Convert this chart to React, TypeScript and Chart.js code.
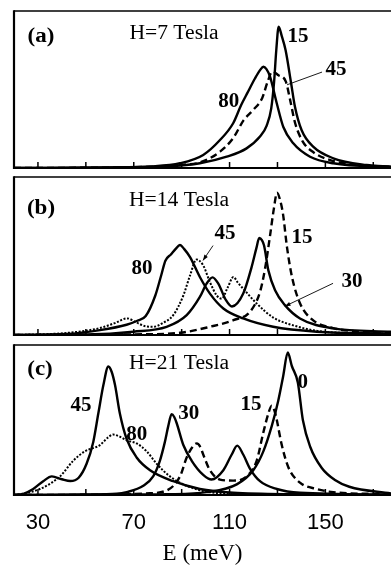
import React, { useEffect, useRef } from "react";
import { Chart, registerables } from "chart.js";

Chart.register(...registerables);

type Pt = [number, number];

// ---------- axis ----------
const E_MIN = 20;
const E_MAX = 177.4;
const E_TICKS = [30, 50, 70, 90, 110, 130, 150, 170];
const E_LABELED = [30, 70, 110, 150];
const X_TITLE = "E (meV)";

// ---------- panel (a) H = 7 Tesla ----------
const A_15: Pt[] = [
  [20, 0], [60, 0.3], [84, 1], [97.6, 3], [108.8, 7.2], [117.1, 12.5], [122.7, 20],
  [125.5, 27], [127.4, 38], [128.6, 55], [129.5, 75], [130.5, 90], [131.8, 84],
  [133.4, 75], [135.7, 54], [137.3, 39], [140.1, 24], [144.9, 13.6], [153.3, 6.2],
  [167.2, 1.9], [177.4, 0.8],
];
const A_45: Pt[] = [
  [20, 0], [70, 0.5], [90, 2], [97.6, 3.5], [106, 10.4], [111.5, 19], [115.9, 30.5],
  [119.9, 37], [123.6, 44.5], [125.9, 55], [127.8, 61.4], [130.5, 59], [133.5, 55],
  [135.2, 44], [137.3, 29], [140.5, 17], [145, 10], [152, 5], [161, 2.3], [177.4, 0.8],
];
const A_80: Pt[] = [
  [20, 0], [60, 0.4], [76.8, 1], [89.3, 3], [99, 8.3], [106, 17.8], [111.5, 28.5],
  [114.8, 40], [117.5, 48], [120.6, 57], [122.8, 62.5], [124.1, 64.5], [125.4, 63],
  [126.9, 58.2], [129.7, 41.2], [132.4, 26.3], [136.6, 15.7], [143.6, 7.2],
  [153.3, 3], [177.4, 0.6],
];

// ---------- panel (b) H = 14 Tesla ----------
const B_15: Pt[] = [
  [20, 0], [70, 0.4], [89.3, 1.4], [101.8, 5.2], [111.6, 9.4], [118.5, 14.7],
  [122.7, 27.2], [124.8, 41.9], [126.9, 62.9], [128.5, 80], [129.8, 90], [131, 86],
  [132.3, 76.7], [134, 55.3], [136.1, 36.5], [139.4, 20.1], [144.8, 9.4],
  [153.2, 4.4], [165, 2], [177.4, 1.3],
];
const B_30: Pt[] = [
  [20, 0], [50, 0.3], [69.8, 2.1], [83.7, 5.2], [92.1, 12.6], [97.6, 24.1],
  [100.4, 32.5], [102.9, 36.5], [105.3, 32.5], [108.5, 22], [111, 18], [115.7, 26.2],
  [119.2, 43], [121.2, 55], [122.4, 61.4], [123.5, 60], [124.4, 56.6], [126.2, 40.9],
  [129, 28.3], [133.1, 18.9], [139.4, 10.5], [153.2, 4.2], [177.4, 2.1],
];
const B_45: Pt[] = [
  [20, 0], [42, 1.3], [55.9, 4.4], [62, 7.5], [67.3, 10.5], [71, 8], [75, 5.5],
  [78.2, 5.2], [82, 7.5], [86.5, 12.6], [90.7, 25], [93.5, 37.7], [96.2, 47.8],
  [99, 44], [101.8, 33.5], [104.6, 25.1], [106.7, 23], [109.2, 30], [111.6, 36.7],
  [113.5, 33], [115.7, 29.3], [121.3, 20], [128.3, 11], [138, 5.5], [149.1, 2.1],
  [177.4, 0.8],
];
const B_80: Pt[] = [
  [20, 0], [42, 0.6], [55.9, 3.1], [67, 6.5], [71.5, 9], [75, 12], [79, 25],
  [81.5, 38], [83.2, 47], [85.5, 51], [87.5, 54.5], [89.3, 57], [91, 54.5],
  [93.5, 49.3], [97.6, 36.7], [101.8, 26.2], [107.4, 16.8], [115.7, 10.5],
  [128.2, 5.2], [146.4, 2.1], [177.4, 0.8],
];

// ---------- panel (c) H = 21 Tesla ----------
const C_0: Pt[] = [
  [20, 0], [70, 0.3], [83.7, 0.5], [100.4, 1.9], [113, 7.1], [119.9, 16.5],
  [124.1, 29.1], [127.6, 45.9], [130.3, 62.7], [132.4, 79.4], [134.3, 95], [136, 86],
  [138.5, 75], [140.6, 50], [143.7, 32], [148.5, 18], [154, 10], [160, 5.5],
  [177.4, 1],
];
const C_15: Pt[] = [
  [20, 0], [60, 0.3], [75, 1], [83.7, 3], [89.3, 12.4], [92.1, 25], [94.5, 32],
  [96.3, 34.4], [97.8, 32], [99, 27], [101.8, 16.5], [106, 10.3], [111.5, 9.6],
  [117.1, 12.4], [121.3, 22.8], [124.1, 41.7], [126.2, 54.3], [127.6, 59.6],
  [128.8, 56], [129.7, 50.1], [131.8, 33.3], [134.5, 18.7], [139.4, 8.2],
  [146.4, 4], [153.3, 1.9], [177.4, 0.5],
];
const C_30: Pt[] = [
  [20, 0], [50, 0.3], [62.9, 0.8], [67, 1.9], [74, 6.1], [78.1, 12.4], [80.9, 22.8],
  [83, 35.4], [84.4, 45.9], [85.8, 53.9], [86.9, 52], [87.9, 48], [90.7, 33.3],
  [94.2, 22.8], [99, 13.4], [102.5, 10.3], [107.4, 16.5], [110.9, 27], [113.2, 32.9],
  [115.7, 27], [118.5, 17.6], [122.7, 9.2], [129.7, 4], [139.4, 1.5], [177.4, 0.3],
];
const C_45: Pt[] = [
  [20, 0], [23.9, 0.8], [28, 4], [32.2, 9.2], [35.8, 12.4], [40, 10.5], [43.5, 9.3],
  [47, 11.5], [50.3, 20.8], [53.1, 35.4], [55.2, 54.3], [57.3, 73.1], [59.4, 85.7],
  [60.8, 82], [62.2, 73.1], [64.2, 54.3], [67, 37.5], [71.2, 25], [76.8, 16.5],
  [86.5, 9.2], [97.6, 4], [111.5, 1.5], [140, 0.5], [177.4, 0],
];
const C_80: Pt[] = [
  [20, 0], [22.5, 0.5], [30.8, 4], [39.2, 12.4], [44.7, 22.8], [49.6, 29.1],
  [55.9, 33.3], [59, 38], [61.4, 40.3], [64, 39], [67, 36.5], [71.2, 34.4],
  [75.4, 29.1], [79.6, 20.8], [85.1, 12.4], [92.1, 6.1], [101.8, 1.9], [120, 0.5],
  [177.4, 0],
];

// ---------- layout / styles ----------
const SERIF = '"Liberation Serif", "DejaVu Serif", serif';
const SANS = '"Liberation Sans", Arial, sans-serif';

type Style = "solid" | "dash" | "dot";
interface Curve { data: Pt[]; style: Style }
interface Label { text: string; e: number; v: number }
interface Arrow { e1: number; v1: number; e2: number; v2: number; head: boolean }
interface Panel {
  top: number;
  height: number;
  padTop: number;
  padBottom: number;
  axis: boolean;
  letter: string;
  letterXY: [number, number];
  title: string;
  titleXY: [number, number];
  curves: Curve[];
  labels: Label[];
  arrows: Arrow[];
}

const PANELS: Panel[] = [
  {
    top: 0, height: 172, padTop: 11, padBottom: 4, axis: false,
    letter: "(a)", letterXY: [41, 37], title: "H=7 Tesla", titleXY: [174, 34],
    curves: [
      { data: A_15, style: "solid" },
      { data: A_45, style: "dash" },
      { data: A_80, style: "solid" },
    ],
    labels: [
      { text: "15", e: 138.6, v: 84 },
      { text: "45", e: 154.4, v: 62.4 },
      { text: "80", e: 109.7, v: 42 },
    ],
    arrows: [{ e1: 148.6, v1: 61.1, e2: 134.0, v2: 53, head: false }],
  },
  {
    top: 172, height: 168, padTop: 5, padBottom: 5, axis: false,
    letter: "(b)", letterXY: [41, 209], title: "H=14 Tesla", titleXY: [179, 201],
    curves: [
      { data: B_15, style: "dash" },
      { data: B_30, style: "solid" },
      { data: B_45, style: "dot" },
      { data: B_80, style: "solid" },
    ],
    labels: [
      { text: "45", e: 108.1, v: 64.2 },
      { text: "15", e: 140.2, v: 61.6 },
      { text: "80", e: 73.4, v: 42.1 },
      { text: "30", e: 161.1, v: 34 },
    ],
    arrows: [
      { e1: 103.1, v1: 56.6, e2: 98.9, v2: 47.2, head: true },
      { e1: 153.2, v1: 32.7, e2: 133.1, v2: 18.2, head: true },
    ],
  },
  {
    top: 340, height: 228, padTop: 5, padBottom: 2, axis: true,
    letter: "(c)", letterXY: [40, 370], title: "H=21 Tesla", titleXY: [179, 364],
    curves: [
      { data: C_0, style: "solid" },
      { data: C_15, style: "dash" },
      { data: C_30, style: "solid" },
      { data: C_45, style: "solid" },
      { data: C_80, style: "dot" },
    ],
    labels: [
      { text: "45", e: 48.0, v: 59.7 },
      { text: "80", e: 71.3, v: 40.3 },
      { text: "30", e: 93.0, v: 54.1 },
      { text: "15", e: 118.9, v: 60.4 },
      { text: "0", e: 140.6, v: 74.8 },
    ],
    arrows: [],
  },
];

function drawText(ctx: CanvasRenderingContext2D, text: string, x: number, y: number, font: string, sx: number) {
  ctx.save();
  ctx.translate(x, y);
  ctx.scale(sx, 1);
  ctx.font = font;
  ctx.fillStyle = "#000";
  ctx.textAlign = "center";
  ctx.textBaseline = "middle";
  ctx.fillText(text, 0, 0);
  ctx.restore();
}

function makePlugin(p: Panel) {
  return {
    id: "decor",
    afterDatasetsDraw(chart: any) {
      const ctx: CanvasRenderingContext2D = chart.ctx;
      const { left, right, top, bottom } = chart.chartArea;
      const xs = chart.scales.x;
      const ys = chart.scales.y;
      ctx.save();
      ctx.strokeStyle = "#000";
      ctx.setLineDash([]);
      // frame: top, left, bottom
      ctx.lineWidth = 1.5;
      ctx.beginPath();
      ctx.moveTo(left, top);
      ctx.lineTo(right, top);
      ctx.stroke();
      ctx.lineWidth = 2.2;
      ctx.beginPath();
      ctx.moveTo(left, top - 0.75);
      ctx.lineTo(left, bottom);
      ctx.lineTo(right, bottom);
      ctx.stroke();
      // inner tick marks
      ctx.lineWidth = 1.5;
      for (const t of E_TICKS) {
        const x = xs.getPixelForValue(t);
        ctx.beginPath();
        ctx.moveTo(x, bottom);
        ctx.lineTo(x, bottom - 6);
        ctx.stroke();
      }
      // leader lines / arrows
      ctx.lineWidth = 0.9;
      for (const a of p.arrows) {
        const x1 = xs.getPixelForValue(a.e1), y1 = ys.getPixelForValue(a.v1);
        const x2 = xs.getPixelForValue(a.e2), y2 = ys.getPixelForValue(a.v2);
        ctx.beginPath();
        ctx.moveTo(x1, y1);
        ctx.lineTo(x2, y2);
        ctx.stroke();
        if (a.head) {
          const ang = Math.atan2(y2 - y1, x2 - x1);
          const L = 6, W = 0.35;
          ctx.beginPath();
          ctx.moveTo(x2, y2);
          ctx.lineTo(x2 - L * Math.cos(ang - W), y2 - L * Math.sin(ang - W));
          ctx.lineTo(x2 - L * Math.cos(ang + W), y2 - L * Math.sin(ang + W));
          ctx.closePath();
          ctx.fillStyle = "#000";
          ctx.fill();
        }
      }
      ctx.restore();
      // texts
      drawText(ctx, p.letter, p.letterXY[0], p.letterXY[1] - p.top, `bold 20px ${SERIF}`, 1.15);
      drawText(ctx, p.title, p.titleXY[0], p.titleXY[1] - p.top, `20px ${SERIF}`, 1.08);
      for (const l of p.labels) {
        drawText(ctx, l.text, xs.getPixelForValue(l.e), ys.getPixelForValue(l.v), `bold 21px ${SERIF}`, 1);
      }
    },
  };
}

function PanelChart({ p }: { p: Panel }) {
  const ref = useRef<HTMLCanvasElement | null>(null);
  useEffect(() => {
    if (!ref.current) return;
    const datasets = p.curves.map((c) => ({
      data: c.data.map(([x, y]) => ({ x, y })),
      borderColor: "#000",
      borderWidth: c.style === "dot" ? 2 : 2.4,
      borderDash: c.style === "dash" ? [7, 4] : c.style === "dot" ? [2, 1.6] : [],
      pointRadius: 0,
      fill: false,
      cubicInterpolationMode: "monotone" as const,
      tension: 0.4,
    }));
    const chart = new Chart(ref.current, {
      type: "line",
      data: { datasets },
      options: {
        animation: false,
        responsive: false,
        devicePixelRatio: 1,
        layout: { padding: { top: p.padTop, bottom: p.padBottom, left: 14, right: 0 } },
        plugins: { legend: { display: false }, tooltip: { enabled: false } },
        scales: {
          x: {
            type: "linear",
            min: E_MIN,
            max: E_MAX,
            display: p.axis,
            afterBuildTicks: (scale: any) => {
              scale.ticks = E_TICKS.map((v) => ({ value: v }));
            },
            grid: { display: false },
            border: { display: false },
            ticks: {
              autoSkip: false,
              maxRotation: 0,
              padding: 8.5,
              color: "#000",
              font: { family: SANS, size: 22, lineHeight: 1 },
              callback: (v: any) => (E_LABELED.includes(Number(v)) ? String(v) : ""),
            },
            title: {
              display: true,
              text: X_TITLE,
              color: "#000",
              font: { family: SERIF, size: 23, lineHeight: 1 },
              padding: { top: 0, bottom: 1 },
            },
          },
          y: { type: "linear", min: 0, max: 100, display: false },
        },
      },
      plugins: [makePlugin(p)],
    } as any);
    return () => chart.destroy();
  }, [p]);
  return (
    <canvas
      ref={ref}
      width={391}
      height={p.height}
      style={{ position: "absolute", left: 0, top: p.top, width: 391, height: p.height }}
    />
  );
}

export default function App() {
  return (
    <div style={{ position: "absolute", left: 0, top: 0, width: 391, height: 568, overflow: "hidden", background: "#fff" }}>
      {PANELS.map((p, i) => (
        <PanelChart key={i} p={p} />
      ))}
    </div>
  );
}
